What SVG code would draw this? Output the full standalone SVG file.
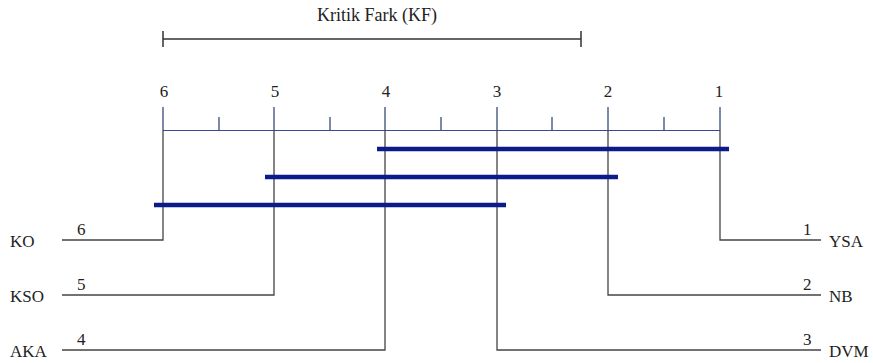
<svg xmlns="http://www.w3.org/2000/svg" width="873" height="363" viewBox="0 0 873 363">
<style>
text{font-family:"Liberation Serif","Times New Roman",serif;font-size:17px;fill:#222}
.ax{stroke:#3a4a9a;stroke-width:1.2;fill:none}
.tk{stroke:#3a4a7a;stroke-width:1.3;fill:none}
.ln{stroke:#444;stroke-width:1.3;fill:none}
.cd{stroke:#0c1a8a;stroke-width:4.5;fill:none}
.kf{stroke:#333;stroke-width:1.5;fill:none}
</style>
<rect width="873" height="363" fill="#fff"/>
<g id="critical-difference">
<text x="377" y="21" text-anchor="middle" style="font-size:18px">Kritik Fark (KF)</text>
<path class="kf" d="M163 39H581M163 31V47M581 31V47"/>
</g>
<g id="axis">
<path class="tk" d="M163 107V130M274 107V130M385 107V130M497 107V130M608 107V130M720 107V130M219 117V130M330 117V130M441 117V130M552 117V130M664 117V130"/>
<path class="ax" d="M163 130.5H720"/>
<text x="164" y="97" text-anchor="middle">6</text>
<text x="275" y="97" text-anchor="middle">5</text>
<text x="386" y="97" text-anchor="middle">4</text>
<text x="497" y="97" text-anchor="middle">3</text>
<text x="608" y="97" text-anchor="middle">2</text>
<text x="719" y="97" text-anchor="middle">1</text>
</g>
<g id="connectors">
<path class="ln" d="M163 130V240H62"/>
<path class="ln" d="M274 130V295H62"/>
<path class="ln" d="M385 130V350H62"/>
<path class="ln" d="M720 130V240H821"/>
<path class="ln" d="M608 130V295H821"/>
<path class="ln" d="M497 130V350H821"/>
</g>
<g id="cliques">
<path class="cd" d="M377 149H729"/>
<path class="cd" d="M265 177H618"/>
<path class="cd" d="M154 205H506"/>
</g>
<g id="KO"><text x="10" y="247">KO</text><text x="77" y="235">6</text></g>
<g id="KSO"><text x="10" y="302">KSO</text><text x="77" y="290">5</text></g>
<g id="AKA"><text x="10" y="357">AKA</text><text x="77" y="345">4</text></g>
<g id="YSA"><text x="829" y="247">YSA</text><text x="803" y="235">1</text></g>
<g id="NB"><text x="829" y="302">NB</text><text x="803" y="290">2</text></g>
<g id="DVM"><text x="829" y="357">DVM</text><text x="803" y="345">3</text></g>
</svg>
